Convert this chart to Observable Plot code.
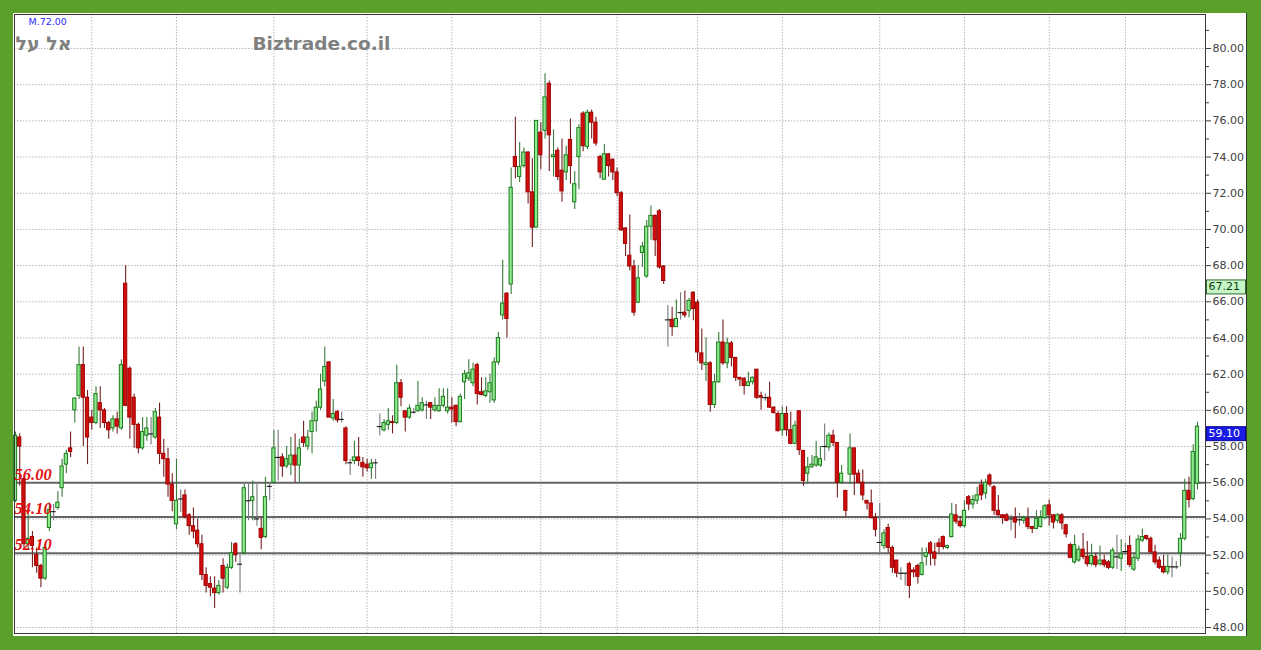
<!DOCTYPE html>
<html><head><meta charset="utf-8">
<script src="https://cdn.jsdelivr.net/npm/d3@7"></script>
<script src="https://cdn.jsdelivr.net/npm/@observablehq/plot@0.6"></script>
<style>
html,body{margin:0;padding:0;background:#5aa02a;width:1261px;height:650px;overflow:hidden;}
#wrap{position:absolute;left:13px;top:13px;width:1233px;height:623px;background:#fff;border-right:1px solid #333;overflow:hidden;}
</style></head><body><div id="wrap"></div>
<script>
const opens = [
55.0,58.5,56.2,52.6,53.0,52.0,51.4,50.7,53.5,54.4,
54.6,55.7,57.0,57.9,60.0,60.8,62.5,60.7,59.6,59.3,
60.4,60.0,59.3,59.0,59.5,59.0,67.0,62.3,60.7,59.2,
57.9,58.6,58.7,58.5,59.6,57.6,57.3,55.9,53.7,55.1,
55.3,54.2,53.6,53.35,52.6,50.9,50.4,50.15,49.9,51.4,
50.2,51.3,52.6,51.5,52.1,55.0,55.0,54.0,53.45,53.0,
55.8,56.0,57.4,57.4,56.9,57.0,57.5,56.95,58.5,58.0,
58.8,59.4,60.15,61.6,62.65,59.55,59.9,59.5,59.0,57.1,
57.2,57.4,57.1,57.0,56.8,57.1,59.1,58.9,59.2,59.35,
59.3,61.5,59.95,59.6,59.9,59.95,60.0,60.3,60.4,60.0,
59.95,60.25,59.95,60.15,60.25,59.35,61.55,61.75,61.5,62.5,
61.0,60.8,61.0,60.55,62.65,65.25,66.45,66.95,74.0,72.9,
73.5,74.25,72.05,70.1,75.35,75.45,78.05,74.0,74.35,73.25,
73.15,74.95,71.5,74.0,76.4,74.55,76.45,75.9,74.0,72.75,
74.15,73.85,73.15,72.0,70.05,68.55,67.95,65.95,68.7,67.4,
70.15,70.75,71.0,67.95,65.0,65.0,64.6,65.4,65.4,65.5,
66.5,65.95,63.15,62.5,62.6,60.3,61.55,63.75,62.6,63.7,
62.9,61.8,61.75,61.35,61.55,62.25,60.8,60.7,60.7,60.15,
59.8,58.9,59.8,58.9,58.15,59.95,57.75,56.5,56.85,56.95,
56.95,58.0,57.95,58.6,58.2,56.0,55.55,56.45,57.9,56.5,
56.0,55.0,54.85,54.05,52.7,52.5,53.5,52.4,51.7,51.0,
51.0,51.5,51.15,51.4,50.9,51.9,52.65,52.15,52.65,53.0,
52.4,53.0,54.2,53.85,53.6,55.2,54.8,55.0,55.85,55.4,
56.4,55.75,54.45,54.2,54.2,54.0,54.05,53.95,53.9,54.0,
53.55,53.45,53.55,54.05,54.75,54.2,53.9,54.2,53.65,52.55,
51.6,51.7,52.3,51.9,51.5,51.9,51.5,51.7,51.6,51.3,
51.9,51.8,52.2,52.5,51.2,51.8,52.8,53.05,52.9,52.15,
51.7,51.35,51.05,51.35,51.35,52.1,52.9,55.55,55.1,55.95];
const highs = [
58.8,58.7,56.3,54.6,53.3,52.4,51.5,52.6,54.9,54.8,
55.5,57.3,57.8,58.8,60.7,63.5,63.5,61.1,60.0,61.3,
61.3,60.1,59.4,59.7,59.9,62.8,68.0,62.4,60.9,59.3,
59.6,59.6,59.6,60.1,60.4,58.4,57.9,56.5,57.3,55.6,
55.6,54.3,54.6,54.0,53.1,51.3,50.8,50.8,50.6,51.8,
51.5,52.7,52.7,52.0,55.9,56.0,56.1,55.9,54.1,56.3,
56.0,58.9,58.9,57.6,58.0,58.5,58.7,58.4,59.4,58.9,
59.9,60.5,62.0,63.5,62.7,60.6,60.0,59.9,59.1,57.3,
58.3,58.5,57.4,57.3,57.3,57.3,59.8,59.5,60.1,59.7,
62.5,61.7,59.95,60.3,60.1,61.6,60.7,60.5,60.4,60.7,
61.2,61.2,61.2,60.7,60.3,60.9,62.2,62.8,62.6,62.6,
61.8,61.8,62.0,62.9,64.3,68.3,66.5,73.4,76.2,74.8,
74.5,74.3,73.9,76.0,75.9,78.6,78.2,75.5,74.5,75.0,
74.6,76.1,73.2,75.8,76.5,76.6,76.6,76.2,74.1,74.7,
74.2,73.9,73.4,72.1,70.1,70.8,68.3,68.0,69.3,70.5,
71.3,70.8,71.1,68.0,65.8,65.7,66.1,66.5,66.6,66.2,
66.55,66.1,64.5,64.0,62.7,62.0,64.3,65.0,64.0,63.8,
62.9,61.8,61.8,62.1,61.85,62.25,61.0,60.9,61.55,60.2,
59.95,60.2,60.2,59.9,59.4,59.95,57.8,57.4,57.5,58.3,
58.0,59.25,58.75,58.9,58.2,56.95,55.55,58.7,57.9,56.7,
56.7,55.0,55.6,54.3,54.85,53.4,53.7,52.5,51.7,51.3,
51.0,51.6,51.3,51.5,52.4,52.4,52.75,52.65,52.9,53.05,
52.55,54.85,54.8,54.15,55.0,55.3,55.3,55.75,56.15,56.2,
56.5,55.85,55.3,54.25,54.3,54.2,54.6,54.3,54.15,54.6,
53.6,54.45,54.45,54.8,55.05,54.2,54.3,54.3,53.7,52.65,
53.1,52.5,53.2,52.75,52.6,52.1,52.5,52.0,51.7,52.4,
53.1,52.85,52.65,53.05,52.1,53.1,53.45,53.1,53.0,52.55,
51.9,52.0,52.0,51.9,51.65,53.2,56.2,56.3,58.1,59.35];
const lows = [
54.9,55.8,52.4,52.3,51.3,51.0,50.2,50.6,53.3,53.9,
54.5,55.2,56.5,57.4,59.3,60.6,58.0,57.0,58.9,59.2,
59.0,59.0,58.4,58.8,58.7,58.9,60.2,58.4,57.9,57.6,
57.8,58.3,58.1,58.4,57.0,56.3,55.2,54.4,53.4,54.35,
54.0,53.1,52.9,52.4,50.6,49.9,49.7,49.05,49.8,49.9,
50.1,51.2,51.6,49.9,52.0,53.9,53.9,53.6,52.3,52.9,
55.0,55.9,56.1,56.3,56.8,56.4,56.0,56.0,57.95,57.8,
57.6,58.8,60.0,61.3,59.6,59.4,59.3,59.3,57.0,56.4,
57.0,56.9,56.3,56.6,56.2,56.2,58.6,58.8,58.9,58.7,
59.2,60.2,58.8,59.5,59.8,59.9,59.9,59.5,59.5,59.9,
59.9,60.15,59.8,59.3,59.1,59.3,60.6,61.6,61.3,60.3,
60.8,60.7,60.4,60.4,62.5,65.0,64.0,66.4,72.8,72.6,
73.4,71.4,69.0,70.1,73.3,75.0,73.2,72.9,72.7,71.5,
72.7,72.5,71.1,72.2,74.3,74.4,75.0,74.6,72.8,72.7,
72.9,72.7,71.8,69.9,68.5,67.7,65.2,65.9,67.9,67.3,
69.4,68.5,67.8,66.95,63.5,64.1,64.6,65.0,65.1,65.1,
64.95,62.7,62.2,61.6,59.9,60.1,61.5,62.5,62.3,62.4,
61.6,61.3,60.85,61.3,61.4,60.6,60.0,60.5,60.1,59.8,
58.8,58.55,58.55,58.1,58.1,57.5,55.8,55.9,56.8,56.85,
56.85,57.2,57.75,58.0,55.15,55.9,54.1,55.9,55.3,55.95,
55.0,54.5,54.0,53.0,52.0,52.3,52.1,51.0,50.75,50.6,
50.3,49.6,50.75,50.4,50.85,51.4,51.4,51.4,52.1,52.3,
52.3,52.95,53.7,53.5,53.5,54.45,54.55,54.8,55.0,55.1,
55.75,54.2,54.15,53.7,53.85,53.35,52.9,53.6,53.7,53.4,
53.2,53.4,53.5,53.95,53.6,53.45,53.75,53.4,52.95,51.8,
51.5,51.6,51.75,51.35,51.4,51.3,51.4,51.3,51.2,51.2,
51.2,51.1,52.1,51.3,51.1,51.65,52.7,52.8,52.05,51.45,
51.2,50.95,50.9,50.75,51.2,51.35,52.8,54.6,55.0,55.6];
const closes = [
58.6,58.0,52.6,52.9,52.5,51.4,50.7,52.4,54.5,54.4,
54.9,56.9,57.6,57.7,60.65,62.5,60.7,58.5,59.3,60.9,
60.0,59.3,58.9,59.5,59.1,62.5,60.25,59.6,59.2,57.9,
58.8,59.0,58.7,59.9,57.6,57.3,55.9,55.0,55.0,55.1,
54.1,53.6,53.3,52.6,50.9,50.3,50.2,49.9,50.3,50.7,
51.3,52.1,52.0,51.5,55.7,55.0,55.2,54.0,52.95,55.2,
55.8,57.9,57.4,56.9,57.3,57.5,56.95,57.9,58.2,58.5,
59.4,60.15,61.15,62.4,59.6,59.8,59.45,59.5,57.2,57.1,
57.4,57.2,56.85,56.8,57.05,57.1,59.1,59.3,59.4,59.3,
61.5,60.7,59.6,60.1,59.9,60.25,60.4,60.3,60.15,60.25,
60.25,60.75,60.15,60.05,59.35,60.75,62.0,62.05,62.25,60.9,
60.85,61.05,61.5,62.65,64.0,65.9,65.05,72.3,73.45,73.45,
74.25,72.05,70.1,76.0,74.1,77.3,75.2,74.1,72.9,72.1,
74.1,73.5,72.5,75.6,74.6,76.45,75.9,74.75,73.15,74.15,
73.5,73.15,72.0,69.95,69.2,67.95,65.4,67.3,69.05,70.15,
70.75,69.4,67.9,67.15,65.0,64.6,65.05,65.4,65.25,66.05,
65.6,63.2,62.6,62.6,60.3,61.55,63.75,62.6,63.7,62.9,
61.8,61.7,61.35,61.55,61.8,60.7,60.7,60.7,60.15,59.85,
58.85,59.8,58.9,58.15,59.15,57.8,56.1,56.85,57.0,57.4,
57.3,58.0,58.6,58.2,56.0,56.5,54.45,57.9,56.45,56.0,
55.3,54.85,54.05,53.4,52.7,53.2,52.4,51.3,51.0,51.0,
51.0,50.3,51.05,50.8,51.55,52.1,52.1,51.8,52.45,52.45,
52.5,54.25,53.85,53.6,54.45,54.8,55.05,55.3,55.3,56.0,
55.9,54.45,54.2,54.05,53.9,54.0,53.8,53.95,54.05,53.55,
53.45,54.0,54.05,54.7,54.2,53.8,54.2,53.75,53.15,51.85,
52.55,52.3,51.9,51.5,51.95,51.45,51.7,51.45,51.3,52.25,
51.9,52.05,52.2,51.45,51.85,52.85,53.0,52.9,52.15,51.6,
51.3,51.05,51.35,51.35,51.35,52.9,55.55,55.05,57.7,59.1];

// candle index of the first session of each month (vertical grid)
const monthStarts = [19, 39, 62, 84, 104, 125, 143, 162, 182, 205, 225, 245, 263];
// support / resistance levels drawn on the chart
const levels = [56.00, 54.10, 52.10];
// right axis ticks
const yTicks = d3.range(48, 81, 2);
const yMinor = d3.range(49, 82, 2);
// value markers on the right axis
const markerValues = [67.21, 59.10];
const markerFill = ["#c6f4c6", "#1a1ae6"];
const markerStroke = ["#2d6b2d", "#0a0a9a"];
const markerText = ["#0b3d0b", "#ffffff"];
const stockName = "אל על";
const siteName = "Biztrade.co.il";
const maLabel = "M.72.00";

const candles = opens.map((o, k) => ({i: k + 1, open: o, high: highs[k], low: lows[k], close: closes[k]}));
const up = candles.filter(d => d.close > d.open);
const down = candles.filter(d => d.close < d.open);
const flat = candles.filter(d => d.close === d.open);
const hw = 0.38;

const grid = {stroke: "#b8b8b8", strokeDasharray: "1.5,1.5", strokeWidth: 1};

const chart = Plot.plot({
  width: 1233, height: 623,
  marginLeft: 1, marginRight: 41, marginTop: 1, marginBottom: 3,
  x: {domain: [0.764, 281.9], axis: null},
  y: {domain: [47.668, 81.879], axis: null},
  style: {background: "transparent", color: "#404040", fontFamily: "DejaVu Sans", fontSize: "11px", overflow: "visible"},
  marks: [
    Plot.ruleY(yTicks, grid),
    Plot.ruleX(monthStarts, grid),
    Plot.ruleY(levels, {stroke: "#666666", strokeWidth: 2}),
    Plot.ruleX(up, {x: "i", y1: "low", y2: "high", stroke: "#3a7a3a", strokeWidth: 1.1}),
    Plot.ruleX(down, {x: "i", y1: "low", y2: "high", stroke: "#762020", strokeWidth: 1.1}),
    Plot.ruleX(flat, {x: "i", y1: "low", y2: "high", stroke: "#777777", strokeWidth: 1.1}),
    Plot.rect(up, {x1: d => d.i - hw, x2: d => d.i + hw, y1: "open", y2: "close", fill: "#8fea8f", stroke: "#1c7a1c", strokeWidth: 1}),
    Plot.rect(down, {x1: d => d.i - hw, x2: d => d.i + hw, y1: "open", y2: "close", fill: "#d20f0f", stroke: "#a00000", strokeWidth: 1}),
    Plot.ruleY(flat, {y: "close", x1: d => d.i - 0.6, x2: d => d.i + 0.6, stroke: "#000", strokeWidth: 1}),
    Plot.frame({stroke: "#3a3a3a"}),
    Plot.axisY(yTicks, {anchor: "right", tickSize: 5, tickPadding: 2, tickFormat: d => d.toFixed(2), fontSize: 11, label: null}),
    Plot.axisY(yMinor, {anchor: "right", tickSize: 3, tickFormat: () => "", label: null}),
    Plot.text(levels, {y: d => d, text: d => d.toFixed(2), frameAnchor: "left", textAnchor: "start", dx: 0, dy: -8.5,
      fill: "#e01010", fontStyle: "italic", fontWeight: "bold", fontSize: 16.5, fontFamily: "Liberation Serif"}),
    Plot.text([markerValues[0]], {y: d => d, text: d => d.toFixed(2), frameAnchor: "right", textAnchor: "start", dx: 3, dy: 7, fill: markerText[0], fontSize: 11}),
    Plot.text([markerValues[1]], {y: d => d, text: d => d.toFixed(2), frameAnchor: "right", textAnchor: "start", dx: 3, dy: 7, fill: markerText[1], fontSize: 11}),
    Plot.text([stockName], {frameAnchor: "top-left", textAnchor: "start", dx: 1, dy: 22, fill: "#808080", fontWeight: "bold", fontSize: 19}),
    Plot.text([siteName], {frameAnchor: "top-left", textAnchor: "start", dx: 238, dy: 22, fill: "#808080", fontWeight: "bold", fontSize: 18.5}),
    Plot.text([maLabel], {frameAnchor: "top-left", textAnchor: "start", dx: 14, dy: 3.5, fill: "#2a2aff", fontSize: 9.5})
  ]
});
document.getElementById("wrap").append(chart);

// background boxes behind the value markers
d3.select(chart).selectAll("text").each(function () {
  const k = markerValues.findIndex(v => v.toFixed(2) === this.textContent);
  if (k < 0) return;
  const bb = this.getBBox();
  const r = d3.select(this.parentNode).insert("rect", () => this)
    .attr("x", bb.x - 2).attr("y", bb.y - 0.5)
    .attr("width", 39).attr("height", bb.height + 1)
    .attr("fill", markerFill[k]).attr("stroke", markerStroke[k]);
  const t = this.getAttribute("transform");
  if (t) r.attr("transform", t);
});
</script></body></html>
